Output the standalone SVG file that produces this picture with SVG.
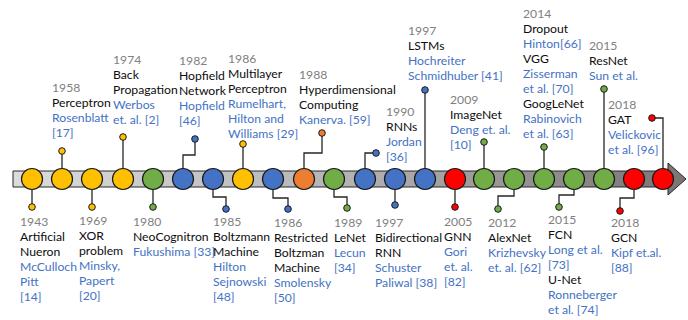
<svg xmlns="http://www.w3.org/2000/svg" width="688" height="320" viewBox="0 0 688 320">
  <defs>
    <style>
      text { font-family: Lato, "Liberation Sans", sans-serif; font-size: 12.2px; }
      .yr { fill: #808080; }
      .ti { fill: #0d0d0d; }
      .au { fill: #4472c4; }
      .node { stroke: #1a1a1a; stroke-width: 1.2; }
      .dot { stroke: #1a1a1a; stroke-width: 1; }
      .y { fill: #ffc000; }
      .g { fill: #70ad47; }
      .b { fill: #4472c4; }
      .o { fill: #ed7d31; }
      .r { fill: #ff0000; }
      #connectors polyline, #connectors line { fill: none; stroke: #262626; stroke-width: 1.3; }
    </style>
    <linearGradient id="barFill" x1="0" y1="0" x2="1" y2="0">
      <stop offset="0" stop-color="#dcdcdc"/>
      <stop offset="0.5" stop-color="#b4b2b2"/>
      <stop offset="1" stop-color="#7a7474"/>
    </linearGradient>
  </defs>

  <!-- timeline arrow -->
  <g id="axis">
    <path d="M13,171 H668 V163 L686,179 L668,195 V187 H13 Z" fill="url(#barFill)" stroke="#262626" stroke-width="1"/>
  </g>

  <!-- stems linking each milestone to its label -->
  <g id="connectors">
    <line x1="32" y1="190" x2="32" y2="207"/>
    <line x1="62" y1="168" x2="62" y2="151"/>
    <line x1="92" y1="190" x2="92" y2="207"/>
    <line x1="123" y1="168" x2="123" y2="137"/>
    <line x1="153" y1="190" x2="153" y2="207"/>
    <polyline points="183,168 183,155 195,155 195,139"/>
    <polyline points="213,190 213,197 226,197 226,209"/>
    <line x1="243" y1="168" x2="243" y2="144"/>
    <polyline points="273,190 273,198 288,198 288,209"/>
    <polyline points="304,168 304,153 322,153 322,133"/>
    <polyline points="334,190 334,197 347,197 347,208"/>
    <polyline points="365,168 365,153 376,153"/>
    <line x1="395" y1="190" x2="395" y2="205"/>
    <line x1="425" y1="168" x2="425" y2="90"/>
    <line x1="455" y1="190" x2="455" y2="207"/>
    <line x1="484" y1="168" x2="484" y2="142"/>
    <polyline points="514,190 514,196 498,196 498,209"/>
    <line x1="544" y1="168" x2="544" y2="147"/>
    <polyline points="574,190 574,195 559,195 559,207"/>
    <line x1="604" y1="168" x2="604" y2="89"/>
    <polyline points="634,190 634,198 620,198 620,211"/>
    <polyline points="663,168 663,118 652,118"/>
  </g>

  <g id="n1943">
    <circle class="node y" cx="32" cy="179" r="10.5"/>
    <circle class="dot y" cx="32" cy="207" r="3.3"/>
    <text x="20" y="226" class="yr">1943</text>
    <text x="20" y="241" class="ti">Artificial</text>
    <text x="20" y="256" class="ti">Nueron</text>
    <text x="20" y="271" class="au">McCulloch</text>
    <text x="20" y="286" class="au">Pitt</text>
    <text x="20" y="301" class="au">[14]</text>
  </g>

  <g id="n1958">
    <circle class="node y" cx="62" cy="179" r="10.5"/>
    <circle class="dot y" cx="62" cy="151" r="3.3"/>
    <text x="52" y="92" class="yr">1958</text>
    <text x="52" y="107" class="ti">Perceptron</text>
    <text x="52" y="122" class="au">Rosenblatt</text>
    <text x="52" y="137" class="au">[17]</text>
  </g>

  <g id="n1969">
    <circle class="node y" cx="92" cy="179" r="10.5"/>
    <circle class="dot y" cx="92" cy="207" r="3.3"/>
    <text x="79" y="225" class="yr">1969</text>
    <text x="79" y="240" class="ti">XOR</text>
    <text x="79" y="255" class="ti">problem</text>
    <text x="79" y="270" class="au">Minsky,</text>
    <text x="79" y="285" class="au">Papert</text>
    <text x="79" y="300" class="au">[20]</text>
  </g>

  <g id="n1974">
    <circle class="node y" cx="123" cy="179" r="10.5"/>
    <circle class="dot y" cx="123" cy="137" r="3.3"/>
    <text x="113" y="64" class="yr">1974</text>
    <text x="113" y="79" class="ti">Back</text>
    <text x="113" y="94" class="ti">Propagation</text>
    <text x="113" y="109" class="au">Werbos</text>
    <text x="113" y="124" class="au">et. al. [2]</text>
  </g>

  <g id="n1980">
    <circle class="node g" cx="153" cy="179" r="10.5"/>
    <circle class="dot g" cx="153" cy="207" r="3.3"/>
    <text x="133" y="226" class="yr">1980</text>
    <text x="133" y="241" class="ti">NeoCognitron</text>
    <text x="133" y="256" class="au">Fukushima [33]</text>
  </g>

  <g id="n1982">
    <circle class="node b" cx="183" cy="179" r="10.5"/>
    <circle class="dot b" cx="195" cy="139" r="3.3"/>
    <text x="179" y="65" class="yr">1982</text>
    <text x="179" y="80" class="ti">Hopfield</text>
    <text x="179" y="95" class="ti">Network</text>
    <text x="179" y="110" class="au">Hopfield</text>
    <text x="179" y="125" class="au">[46]</text>
  </g>

  <g id="n1985">
    <circle class="node b" cx="213" cy="179" r="10.5"/>
    <circle class="dot b" cx="226" cy="209" r="3.3"/>
    <text x="213" y="226" class="yr">1985</text>
    <text x="213" y="241" class="ti">Boltzmann</text>
    <text x="213" y="256" class="ti">Machine</text>
    <text x="213" y="271" class="au">Hilton</text>
    <text x="213" y="286" class="au">Sejnowski</text>
    <text x="213" y="301" class="au">[48]</text>
  </g>

  <g id="n1986a">
    <circle class="node y" cx="243" cy="179" r="10.5"/>
    <circle class="dot y" cx="243" cy="144" r="3.3"/>
    <text x="228" y="63" class="yr">1986</text>
    <text x="228" y="78" class="ti">Multilayer</text>
    <text x="228" y="93" class="ti">Perceptron</text>
    <text x="228" y="108" class="au">Rumelhart,</text>
    <text x="228" y="123" class="au">Hilton and</text>
    <text x="228" y="138" class="au">Williams [29]</text>
  </g>

  <g id="n1986b">
    <circle class="node b" cx="273" cy="179" r="10.5"/>
    <circle class="dot b" cx="288" cy="209" r="3.3"/>
    <text x="274" y="227" class="yr">1986</text>
    <text x="274" y="242" class="ti">Restricted</text>
    <text x="274" y="257" class="ti">Boltzman</text>
    <text x="274" y="272" class="ti">Machine</text>
    <text x="274" y="287" class="au">Smolensky</text>
    <text x="274" y="302" class="au">[50]</text>
  </g>

  <g id="n1988">
    <circle class="node o" cx="304" cy="179" r="10.5"/>
    <circle class="dot o" cx="322" cy="133" r="3.3"/>
    <text x="299" y="79" class="yr">1988</text>
    <text x="299" y="94" class="ti">Hyperdimensional</text>
    <text x="299" y="109" class="ti">Computing</text>
    <text x="299" y="124" class="au">Kanerva. [59]</text>
  </g>

  <g id="n1989">
    <circle class="node g" cx="334" cy="179" r="10.5"/>
    <circle class="dot g" cx="347" cy="208" r="3.3"/>
    <text x="334" y="227" class="yr">1989</text>
    <text x="334" y="242" class="ti">LeNet</text>
    <text x="334" y="257" class="au">Lecun</text>
    <text x="334" y="272" class="au">[34]</text>
  </g>

  <g id="n1990">
    <circle class="node b" cx="365" cy="179" r="10.5"/>
    <circle class="dot b" cx="376" cy="153" r="3.3"/>
    <text x="386" y="116" class="yr">1990</text>
    <text x="386" y="131" class="ti">RNNs</text>
    <text x="386" y="146" class="au">Jordan</text>
    <text x="386" y="161" class="au">[36]</text>
  </g>

  <g id="n1997a">
    <circle class="node b" cx="395" cy="179" r="10.5"/>
    <circle class="dot b" cx="395" cy="205" r="3.3"/>
    <text x="375" y="227" class="yr">1997</text>
    <text x="375" y="242" class="ti">Bidirectional</text>
    <text x="375" y="257" class="ti">RNN</text>
    <text x="375" y="272" class="au">Schuster</text>
    <text x="375" y="287" class="au">Paliwal [38]</text>
  </g>

  <g id="n1997b">
    <circle class="node b" cx="425" cy="179" r="10.5"/>
    <circle class="dot b" cx="425" cy="90" r="3.3"/>
    <text x="408" y="35" class="yr">1997</text>
    <text x="408" y="50" class="ti">LSTMs</text>
    <text x="408" y="65" class="au">Hochreiter</text>
    <text x="408" y="80" class="au">Schmidhuber [41]</text>
  </g>

  <g id="n2005">
    <circle class="node r" cx="455" cy="179" r="10.5"/>
    <circle class="dot r" cx="455" cy="207" r="3.3"/>
    <text x="444" y="226" class="yr">2005</text>
    <text x="444" y="241" class="ti">GNN</text>
    <text x="444" y="256" class="au">Gori</text>
    <text x="444" y="271" class="au">et. al.</text>
    <text x="444" y="286" class="au">[82]</text>
  </g>

  <g id="n2009">
    <circle class="node g" cx="484" cy="179" r="10.5"/>
    <circle class="dot g" cx="484" cy="142" r="3.3"/>
    <text x="450" y="104" class="yr">2009</text>
    <text x="450" y="119" class="ti">ImageNet</text>
    <text x="450" y="134" class="au">Deng et. al.</text>
    <text x="450" y="149" class="au">[10]</text>
  </g>

  <g id="n2012">
    <circle class="node g" cx="514" cy="179" r="10.5"/>
    <circle class="dot g" cx="498" cy="209" r="3.3"/>
    <text x="488" y="227" class="yr">2012</text>
    <text x="488" y="242" class="ti">AlexNet</text>
    <text x="488" y="257" class="au">Krizhevsky</text>
    <text x="488" y="272" class="au">et. al. [62]</text>
  </g>

  <g id="n2014">
    <circle class="node g" cx="544" cy="179" r="10.5"/>
    <circle class="dot g" cx="544" cy="147" r="3.3"/>
    <text x="523" y="18" class="yr">2014</text>
    <text x="523" y="33" class="ti">Dropout</text>
    <text x="523" y="48" class="au">Hinton[66]</text>
    <text x="523" y="63" class="ti">VGG</text>
    <text x="523" y="78" class="au">Zisserman</text>
    <text x="523" y="93" class="au">et al. [70]</text>
    <text x="523" y="108" class="ti">GoogLeNet</text>
    <text x="523" y="123" class="au">Rabinovich</text>
    <text x="523" y="138" class="au">et al. [63]</text>
  </g>

  <g id="n2015a">
    <circle class="node g" cx="574" cy="179" r="10.5"/>
    <circle class="dot g" cx="559" cy="207" r="3.3"/>
    <text x="548" y="224" class="yr">2015</text>
    <text x="548" y="239" class="ti">FCN</text>
    <text x="548" y="254" class="au">Long et al.</text>
    <text x="548" y="269" class="au">[73]</text>
    <text x="548" y="284" class="ti">U-Net</text>
    <text x="548" y="299" class="au">Ronneberger</text>
    <text x="548" y="314" class="au">et al. [74]</text>
  </g>

  <g id="n2015b">
    <circle class="node g" cx="604" cy="179" r="10.5"/>
    <circle class="dot g" cx="604" cy="89" r="3.3"/>
    <text x="589" y="50" class="yr">2015</text>
    <text x="589" y="65" class="ti">ResNet</text>
    <text x="589" y="80" class="au">Sun et al.</text>
  </g>

  <g id="n2018a">
    <circle class="node r" cx="634" cy="179" r="10.5"/>
    <circle class="dot r" cx="620" cy="211" r="3.3"/>
    <text x="611" y="227" class="yr">2018</text>
    <text x="611" y="242" class="ti">GCN</text>
    <text x="611" y="257" class="au">Kipf et.al.</text>
    <text x="611" y="272" class="au">[88]</text>
  </g>

  <g id="n2018b">
    <circle class="node r" cx="663" cy="179" r="10.5"/>
    <circle class="dot r" cx="652" cy="118" r="3.3"/>
    <text x="608" y="109" class="yr">2018</text>
    <text x="608" y="124" class="ti">GAT</text>
    <text x="608" y="139" class="au">Velickovic</text>
    <text x="608" y="154" class="au">et al. [96]</text>
  </g>
</svg>
